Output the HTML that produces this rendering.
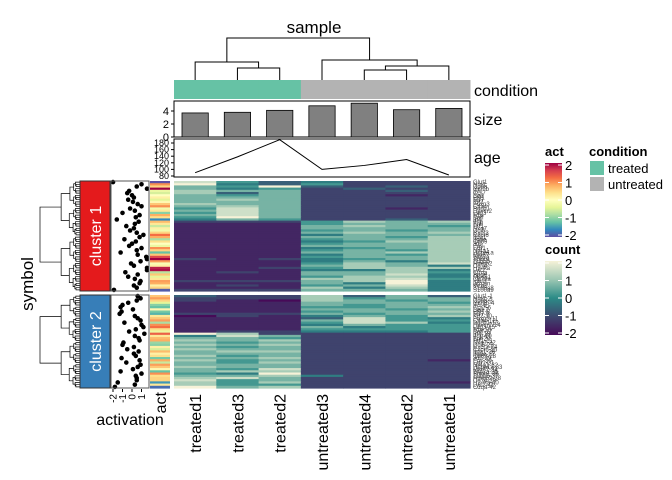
<!DOCTYPE html>
<html><head><meta charset="utf-8">
<style>
html,body{margin:0;padding:0;background:#fff;}
svg{display:block;font-family:"Liberation Sans",sans-serif;}
</style></head>
<body>
<svg id="chart" width="672" height="480" viewBox="0 0 672 480" xmlns="http://www.w3.org/2000/svg">
<defs>
<linearGradient id="gAct" x1="0" y1="1" x2="0" y2="0">
<stop offset="0" stop-color="#5e4fa2"/><stop offset="0.1" stop-color="#3288bd"/><stop offset="0.2" stop-color="#66c2a5"/><stop offset="0.3" stop-color="#abdda4"/><stop offset="0.4" stop-color="#e6f598"/><stop offset="0.5" stop-color="#ffffbf"/><stop offset="0.6" stop-color="#fee08b"/><stop offset="0.7" stop-color="#fdae61"/><stop offset="0.8" stop-color="#f46d43"/><stop offset="0.9" stop-color="#d53e4f"/><stop offset="1" stop-color="#9e0142"/>
</linearGradient>
<linearGradient id="gCount" x1="0" y1="1" x2="0" y2="0">
<stop offset="0" stop-color="#470a58"/><stop offset="0.25" stop-color="#3e4a70"/><stop offset="0.5" stop-color="#2b8b87"/><stop offset="0.75" stop-color="#9dc7b3"/><stop offset="1" stop-color="#f6f2d8"/>
</linearGradient>
</defs>
<g id="root"></g>
</svg>
<script>
const samples = ["treated1","treated3","treated2","untreated3","untreated4","untreated2","untreated1"];
const conditions = ["treated","treated","treated","untreated","untreated","untreated","untreated"];
const sizeValues = [3.7,3.8,4.1,4.8,5.2,4.2,4.4];
const ageValues = [90,138,190,100,112,130,83];
const sizeTicks = [0,2,4];
const ageTicks = [80,100,120,140,160,180];
const countRowsTop = ["8534222","9435222","6593232","6452322","7662232","7362222","6562212","6662222","6762222","6662222","7662222","6762222","5862212","6862222","5862222","6862222","5962222","4652232","2225767","1115666","1116765","1116666","1115656","1116767","1114666","1116657","1115667","1114577","1115667","1116667","1114567","1115657","1116677","1114657","1115667","2124567","1114647","1115768","1116764","1125777","1114474","1216675","1116684","1115774","1117785","2226794","1116494","1215684","1117474","2226664"];
const countRowsBottom = ["3227363","2227566","2107656","1116665","1116566","1115567","1116656","1115667","2226566","0214657","1113854","1116855","1115874","1114655","1116455","1115555","1224445","9722222","4862222","6652222","7672222","6562222","7672222","6562222","7662222","6772222","6662222","7562222","6672222","7562221","6572222","6662222","7662222","6582222","6772222","5492222","6674222","7862222","8562222","7572221","7552222","9672222"];
const actTop = [-2,1,0.5,2,-0.3,-0.5,0,0.2,-0.4,0.1,0.6,1,-0.2,0.3,-1,0.8,0.4,-1.6,0.7,0.3,-0.6,0.2,-0.2,0.5,1.2,0.8,-0.8,0.4,0,-0.3,1,0.5,-1.2,0.6,1.5,2,0.9,-0.1,0.2,1.8,1.9,-0.7,0.6,-0.4,0.3,0.9,0.8,0.2,0.5,-1.9];
const actBottom = [0.6,0.9,0.5,-0.4,-1,-1.2,0.1,-1.1,-1.3,0.3,0.6,0.9,-0.8,1,1.2,0.4,-0.3,1.3,0.3,0.7,0.8,-0.9,-1,0.2,-0.5,0.7,0.2,0.4,-1.1,0.8,-0.6,0.9,0.6,0.1,-1.2,1,0.4,0.5,0.5,-1.5,0.3,-1.8];
const countTicks = [2,1,0,-1,-2];
const actTicks = [2,1,0,-1,-2];

const NS="http://www.w3.org/2000/svg";
const root=document.getElementById('root');
function el(tag,attrs,parent){const e=document.createElementNS(NS,tag);for(const k in attrs)e.setAttribute(k,attrs[k]);(parent||root).appendChild(e);return e;}
function txt(s,attrs,parent){const e=el('text',attrs,parent);e.textContent=s;return e;}
function lerpColor(stops,v){
  if(v<=stops[0][0])return stops[0][1];
  for(let i=1;i<stops.length;i++){if(v<=stops[i][0]){const a=stops[i-1],b=stops[i];const t=(v-a[0])/(b[0]-a[0]);
    const ca=[1,3,5].map(j=>parseInt(a[1].substr(j,2),16)),cb=[1,3,5].map(j=>parseInt(b[1].substr(j,2),16));
    return 'rgb('+ca.map((c,j)=>Math.round(c+(cb[j]-c)*t)).join(',')+')';}}
  return stops[stops.length-1][1];}
const countStops=[[-2,"#470a58"],[-1,"#3e4a70"],[0,"#2b8b87"],[1,"#9dc7b3"],[2,"#f6f2d8"]];
const specHex=["#5e4fa2","#3288bd","#66c2a5","#abdda4","#e6f598","#ffffbf","#fee08b","#fdae61","#f46d43","#d53e4f","#9e0142"];
const actStops=specHex.map((c,i)=>[-2+i*0.4,c]);

const HX0=174,HX1=470,CW=(HX1-HX0)/samples.length;
const colX=i=>HX0+i*CW;
const slices=[{y0:181,y1:291,rows:countRowsTop,act:actTop},{y0:295,y1:388,rows:countRowsBottom,act:actBottom}];

let t=txt("sample",{x:314,y:33,"font-size":17,"text-anchor":"middle",fill:"#000"});



const cd=el('g',{stroke:"#000","stroke-width":1,fill:"none"});


const cx=i=>colX(i)+CW/2;
function bracket(xa,ya,xb,yb,h){el('path',{d:`M${xa},${ya}V${h}H${xb}V${yb}`},cd);return (xa+xb)/2;}
let m1=bracket(cx(1),80,cx(2),80,68);
let m2=bracket(cx(0),80,m1,68,62);
let m3=bracket(cx(4),80,cx(5),80,70);
let m4=bracket(m3,70,cx(6),80,66);
let m5=bracket(cx(3),80,m4,66,60);
bracket(m2,62,m5,60,38);

conditions.forEach((c,i)=>{const r=el('rect',{x:colX(i),y:80,width:CW+0.5,height:19,fill:c==="treated"?"#66c2a5":"#b3b3b3"});

});
t=txt("condition",{x:474,y:96,"font-size":16});



const sY0=137,sY1=101;const sScale=v=>sY0-v*6.5;
let box=el('rect',{x:HX0,y:sY1,width:HX1-HX0,height:sY0-sY1,fill:"none",stroke:"#000"});


sizeValues.forEach((v,i)=>{const r=el('rect',{x:colX(i)+8,y:sScale(v),width:CW-16,height:sY0-sScale(v),fill:"#808080",stroke:"#000","stroke-width":0.8});

});
sizeTicks.forEach(v=>{el('line',{x1:HX0-3,x2:HX0,y1:sScale(v),y2:sScale(v),stroke:"#000"});
const l=txt(String(v),{x:HX0-5,y:sScale(v)+4,"font-size":11,"text-anchor":"end"});

});
t=txt("size",{x:474,y:125,"font-size":16});



const aY=v=>176-(v-80)*0.33;
box=el('rect',{x:HX0,y:139,width:HX1-HX0,height:38,fill:"none",stroke:"#000"});


const pl=el('polyline',{points:ageValues.map((v,i)=>cx(i)+","+aY(v)).join(" "),fill:"none",stroke:"#000","stroke-width":1});


ageTicks.forEach(v=>{el('line',{x1:HX0-3,x2:HX0,y1:aY(v),y2:aY(v),stroke:"#000"});
const l=txt(String(v),{x:HX0-5,y:aY(v)+3,"font-size":9,"text-anchor":"end"});

});
t=txt("age",{x:474,y:163,"font-size":16});



const geneNames=["Glut1","Nrp1","Cd8a","Gzmb","Il7r","Ccr7","Sell","Lef1","Tcf7","Klf2","Foxp3","Ctla4","Pdcd1","Havcr2","Lag3","Tox","Batf","Irf4","Ifng","Tnf","Prf1","Nkg7","Ccl5","Cxcr3","Cxcr6","Itga1","Itgae","Cd69","Jun","Fos","Egr1","Nr4a1","Hspa1a","Mki67","Top2a","Stmn1","Tubb5","Hmgb2","Cd74","H2-Aa","Lyz2","C1qa","Apoe","Ms4a1","Cd79a","Ighm","Jchain","Mzb1","S100a8","S100a9"];
const dend=el('g',{stroke:"#000","stroke-width":0.7,fill:"none"});


let gi=0;
slices.forEach((s,si)=>{
  const n=s.rows.length,rh=(s.y1-s.y0)/n;
  const g=el('g',{});
  
  
  s.rows.forEach((row,ri)=>{
    for(let ci=0;ci<row.length;ci++){
      const v=parseInt(row[ci])*4/9-2;
      const r=el('rect',{x:colX(ci),y:s.y0+ri*rh,width:CW+0.6,height:rh+0.6,fill:lerpColor(countStops,v)},g);
      
      
    }
    const lab=txt(geneNames[gi%geneNames.length]+(gi>=50?"-"+(gi-49):""),{x:473,y:s.y0+ri*rh+rh+1,"font-size":6,fill:"#444"});
    
    
    gi++;
    const a=s.act[ri];
    const ar=el('rect',{x:150,y:s.y0+ri*rh,width:20,height:rh+0.6,fill:lerpColor(actStops,a)});
    
    
    const px=113+(a+2)*9.5;
    const c=el('circle',{cx:Math.max(113,Math.min(147,px)),cy:s.y0+ri*rh+rh/2,r:2.3,fill:"#000"});
    
    
  });
  const cb=el('rect',{x:80,y:s.y0,width:30,height:s.y1-s.y0,fill:si===0?"#e41a1c":"#377eb8",stroke:"#333","stroke-width":1});
  
  
  const ct=txt("cluster "+(si+1),{x:0,y:0,"font-size":16,fill:"#fff","text-anchor":"middle",transform:`translate(101,${(s.y0+s.y1)/2}) rotate(-90)`});
  
  
  const pb=el('rect',{x:111,y:s.y0,width:38,height:s.y1-s.y0,fill:"none",stroke:"#555","stroke-width":1});
  
  
  function build(a,b,depth){
    if(b-a<=1){return {y:s.y0+(a+0.5)*rh,x:80};}
    const mid=Math.floor((a+b)/2);
    const L=build(a,mid,depth+1),R=build(mid,b,depth+1);
    const x=depth===0?40:80-3-34*Math.pow((b-a)/n,1.1);
    el('path',{d:`M${L.x},${L.y}H${x}V${R.y}H${R.x}`},dend);
    return {x:x,y:(L.y+R.y)/2};
  }
  build(0,n,0);
});

[-2,-1,0,1].forEach(v=>{const x=113+(v+2)*9.5;el('line',{x1:x,x2:x,y1:389,y2:392,stroke:"#000"});
const l=txt(String(v),{x:0,y:0,"font-size":10,"text-anchor":"end",transform:`translate(${x+3.5},394) rotate(-90)`});

});
t=txt("activation",{x:130,y:425,"font-size":16,"text-anchor":"middle"});


t=txt("act",{x:0,y:0,"font-size":16,"text-anchor":"end",transform:"translate(166,392) rotate(-90)"});


t=txt("symbol",{x:0,y:0,"font-size":17,"text-anchor":"middle",transform:"translate(33,284) rotate(-90)"});



samples.forEach((s,i)=>{const l=txt(s,{x:0,y:0,"font-size":16,"text-anchor":"end",transform:`translate(${cx(i)+6},394) rotate(-90)`});

});

function colorLegend(title,grad,y,ticks,name){
  const tt=txt(title,{x:545,y:y,"font-size":13,"font-weight":"bold"});
  
  
  const r=el('rect',{x:545,y:y+7,width:17,height:74,fill:`url(#${grad})`});
  
  
  ticks.forEach((v,i)=>{const yy=y+9+i*17.5;
    el('line',{x1:545,x2:549,y1:yy,y2:yy,stroke:"#fff"});el('line',{x1:558,x2:562,y1:yy,y2:yy,stroke:"#fff"});
    const l=txt(String(v),{x:565,y:yy+5,"font-size":13});
    
    });
}
colorLegend("act","gAct",156,actTicks,"act");
colorLegend("count","gCount",254,countTicks,"count");
t=txt("condition",{x:589,y:156,"font-size":13,"font-weight":"bold"});


[["treated","#66c2a5"],["untreated","#b3b3b3"]].forEach((d,i)=>{
  const r=el('rect',{x:590,y:161+i*16,width:14,height:14,fill:d[1]});
  
  
  const l=txt(d[0],{x:608,y:173+i*16,"font-size":13});
  
  
});
</script>
</body></html>
